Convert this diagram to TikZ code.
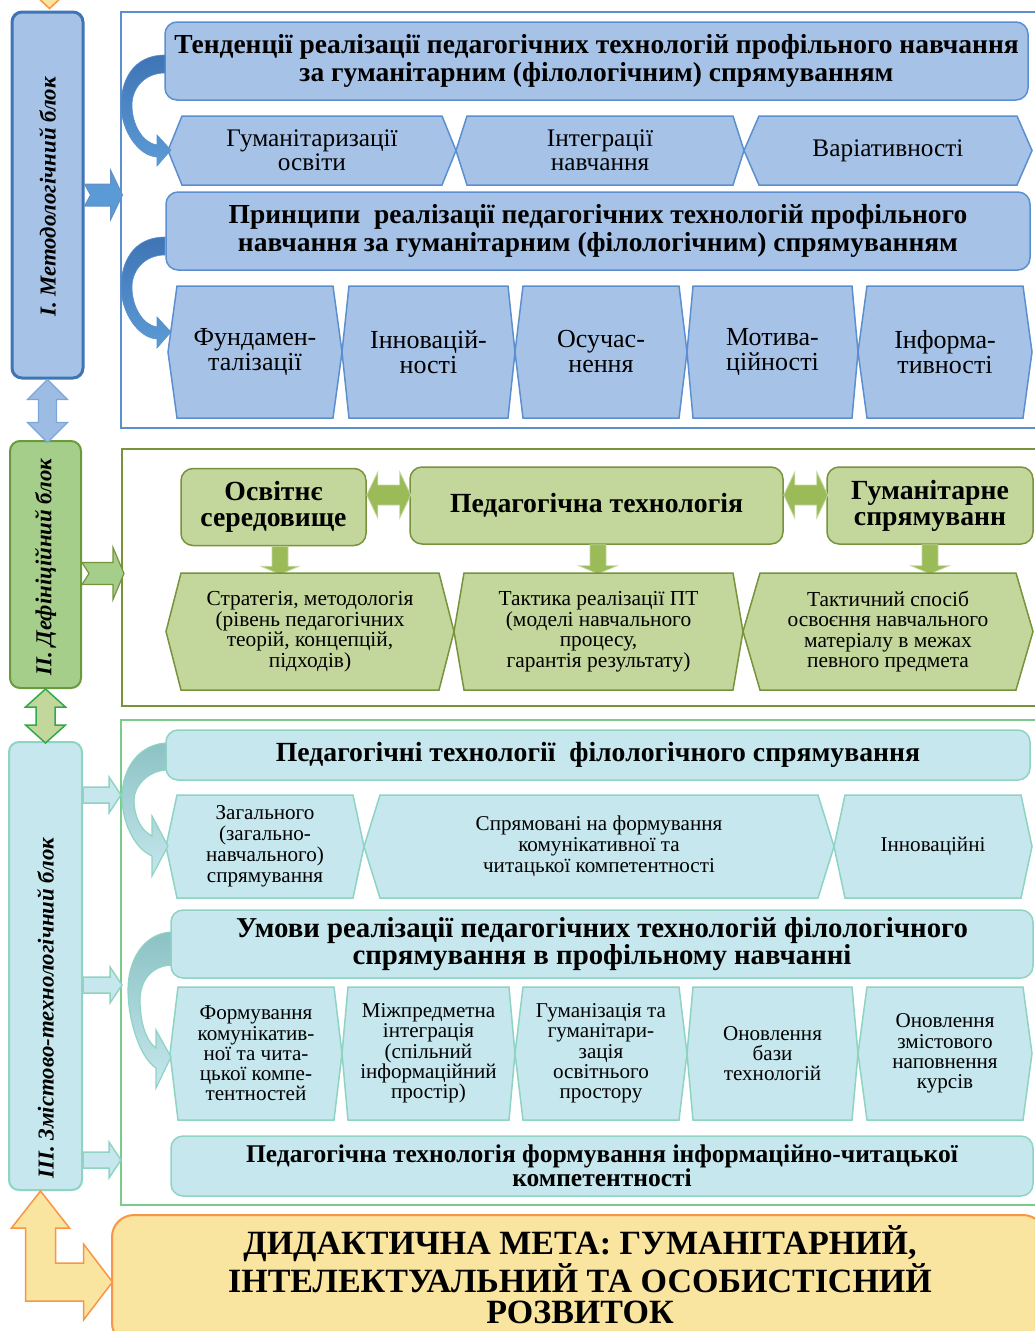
\documentclass[tikz,border=0pt]{standalone}
\usepackage{fontspec}
\setmainfont{Liberation Serif}
\usetikzlibrary{calc}

\definecolor{blfill}{HTML}{A6C3E7}
\definecolor{bldraw}{HTML}{5B8FD0}
\definecolor{bldark}{HTML}{3F74B5}
\definecolor{blarr}{HTML}{5B9BD5}
\definecolor{grfill}{HTML}{C3D69B}
\definecolor{grdraw}{HTML}{77933C}
\definecolor{grmid}{HTML}{9BBB59}
\definecolor{grblk}{HTML}{A5CE8A}
\definecolor{grline}{HTML}{6A9A3C}
\definecolor{grbright}{HTML}{2EAA4A}
\definecolor{tlfill}{HTML}{C5E7ED}
\definecolor{tldraw}{HTML}{8FD3C3}
\definecolor{tldark}{HTML}{8CC2C4}
\definecolor{frgreen}{HTML}{7ACB8C}
\definecolor{yefill}{HTML}{F9E4A0}
\definecolor{ordraw}{HTML}{F79646}

% hexagon: shape style, text style, name, left tip, right tip, top, bottom, inset, text
\newcommand{\hexa}[9]{%
  \draw[#1] (#4,{(#6+#7)/2}) -- (#4+#8,#6) -- (#5-#8,#6) -- (#5,{(#6+#7)/2})
    -- (#5-#8,#7) -- (#4+#8,#7) -- cycle;
  \node[#2] (#3) at ({(#4+#5)/2},{(#6+#7)/2}) {#9};}
% arrow to the right: style, tail, length, shaft half, head half, head length, notch
\newcommand{\rarr}[7]{%
  \draw[#1] (#2) ++(#7,0) -- ++(-#7,-#4) -- ++(#3-#6,0) -- ++(0,#4-#5) -- ++(#6,#5)
    -- ++(-#6,#5) -- ++(0,#4-#5) -- ++(#6-#3,0) -- cycle;}
% double arrow left-right: style, left tip, length, shaft half, head half, head length
\newcommand{\lrarr}[6]{%
  \draw[#1] (#2) -- ++(#6,-#5) -- ++(0,#5-#4) -- ++(#3-2*#6,0) -- ++(0,#4-#5) -- ++(#6,#5)
    -- ++(-#6,#5) -- ++(0,#4-#5) -- ++(2*#6-#3,0) -- ++(0,#5-#4) -- cycle;}
% double arrow up-down: style, top tip, length, shaft half, head half, head length
\newcommand{\udarr}[6]{%
  \draw[#1] (#2) -- ++(#5,#6) -- ++(#4-#5,0) -- ++(0,#3-2*#6) -- ++(#5-#4,0) -- ++(-#5,#6)
    -- ++(-#5,-#6) -- ++(#5-#4,0) -- ++(0,2*#6-#3) -- ++(#4-#5,0) -- cycle;}
% arrow down: style, top centre, length, shaft half, head half, head length
\newcommand{\darr}[6]{%
  \draw[#1] (#2) ++(-#4,0) -- ++(0,#3-#6) -- ++(#4-#5,0) -- ++(#5,#6) -- ++(#5,-#6)
    -- ++(#4-#5,0) -- ++(0,#6-#3) -- cycle;}

\tikzset{
  frame/.style={rectangle, line width=2pt, inner sep=0pt},
  blk/.style={rectangle, rounded corners=10pt, line width=2pt, minimum width=71, inner sep=0pt},
  blklbl/.style={rotate=90, inner sep=0pt, font=\fontsize{22.8}{24}\selectfont\bfseries\itshape},
  txt/.style={align=center, inner sep=0pt},
  bltitle/.style={rectangle, rounded corners=12pt, draw=bldraw, fill=blfill, line width=1.5pt,
    align=center, inner sep=0pt, font=\fontsize{27.5}{28}\selectfont\bfseries},
  grtitle/.style={rectangle, rounded corners=12pt, draw=grdraw, fill=grfill, line width=1.5pt,
    align=center, inner sep=0pt, minimum height=77, font=\fontsize{27.7}{26}\selectfont\bfseries},
  tltitle/.style={rectangle, rounded corners=12pt, draw=tldraw, fill=tlfill, line width=1.5pt,
    align=center, inner sep=0pt, font=\fontsize{27.7}{23}\selectfont\bfseries},
  blhex/.style={draw=bldraw, fill=blfill, line width=1.5pt},
  grhex/.style={draw=grdraw, fill=grfill, line width=1.5pt},
  tlhex/.style={draw=tldraw, fill=tlfill, line width=1.5pt},
  hexA/.style={txt, font=\fontsize{25.3}{24}\selectfont},
  hexB/.style={txt, font=\fontsize{26}{25}\selectfont},
  hexC/.style={txt, font=\fontsize{21.4}{20.5}\selectfont},
  hexD/.style={txt, font=\fontsize{21.1}{21}\selectfont},
  hexE/.style={txt, font=\fontsize{21.1}{20.3}\selectfont},
  curvbl/.style={draw=bldraw, line width=0.6pt, top color=bldark, bottom color=blarr},
  curvtl/.style={draw=tldraw, line width=1.2pt, top color=tldark, bottom color=tlfill},
  blarrow/.style={draw=bldark!80, fill=blarr, line width=1pt},
  bldouble/.style={draw=bldraw!80, fill=bldraw!60, line width=1.2pt},
  grarrow/.style={draw=grdraw, fill=grblk, line width=1.2pt},
  grdouble/.style={draw=grbright, fill=grfill, line width=1.5pt},
  grsmall/.style={draw=grfill, fill=grmid, line width=0.8pt},
  tlarrow/.style={draw=tldraw, fill=tlfill, line width=1.5pt},
  orarrow/.style={draw=ordraw, fill=yefill, line width=1.5pt},
  goal/.style={rectangle, rounded corners=22pt, draw=ordraw, fill=yefill, line width=2pt, inner sep=0pt},
  goaltxt/.style={txt, font=\fontsize{34}{31.5}\selectfont\bfseries},
}

\begin{document}
\begin{tikzpicture}[x=1pt,y=-1pt]
\useasboundingbox (0,0) rectangle (1035,1331);

\node[frame, draw=bldraw, minimum width=919, minimum height=416] (frI) at (580.5,220) {};
\node[frame, draw=grdraw, minimum width=918, minimum height=257] (frII) at (581,577.5) {};
\node[frame, draw=frgreen, minimum width=919, minimum height=485] (frIII) at (580.5,962.5) {};

\node[blk, draw=bldark, fill=blfill, line width=3pt, minimum height=366] (blkI) at (47.5,195) {};
\node[blklbl] (lblI) at (47.5,197) {I. Методологічний блок};
\node[blk, draw=grline, fill=grblk, minimum height=247] (blkII) at (45.5,564.5) {};
\node[blklbl] (lblII) at (45.5,567) {II. Дефініційний блок};
\node[blk, draw=tldraw, fill=tlfill, minimum width=73, minimum height=448] (blkIII) at (45.5,966) {};
\node[blklbl] (lblIII) at (45.5,1008) {III. Змістово-технологічний блок};

\draw[orarrow] (blkI.north) ++(2,-2) -- ++(-14,-13) -- ++(28,0) -- cycle;
\udarr{bldouble}{blkI.south}{63}{9}{20}{20}
\udarr{grdouble}{blkII.south}{54}{9.5}{20}{18}
\rarr{blarrow}{blkI.east}{38}{11}{25}{12}{6}
\rarr{grarrow}{$(blkII.east)+(0,9)$}{42}{11}{26}{11}{7}

% methodological block
\node[bltitle, minimum width=863, minimum height=78] (tend) at (596.5,61)
  {Тенденції реалізації педагогічних технологій профільного навчання\\за гуманітарним (філологічним) спрямуванням};
\hexa{blhex}{hexA}{tgum}{168}{456}{116}{185}{14}{Гуманітаризації\\освіти}
\hexa{blhex}{hexA}{tint}{456}{744}{116}{185}{11}{Інтеграції\\навчання}
\hexa{blhex}{hexA}{tvar}{744}{1032}{116}{185}{15}{Варіативності}
\node[bltitle, minimum width=864, minimum height=78] (princ) at (598,231)
  {Принципи~ реалізації педагогічних технологій профільного\\навчання за гуманітарним (філологічним) спрямуванням};
\hexa{blhex}{hexB}{pfun}{168}{342}{286}{418}{9}{Фундамен-\\талізації}
\hexa{blhex}{hexB}{pinn}{342}{515}{286}{418}{7}{Інновацій-\\ності}
\hexa{blhex}{hexB}{posu}{515}{687}{286}{418}{8}{Осучас-\\нення}
\hexa{blhex}{hexB}{pmot}{687}{858}{286}{418}{6}{Мотива-\\ційності}
\hexa{blhex}{hexB}{pinf}{858}{1032}{286}{418}{9}{Інформа-\\тивності}
\path[curvbl] (165,55) .. controls (132,55) and (121,82) .. (121,105)
  .. controls (121,130) and (138,156) .. (157,157) -- (157,166) -- (171,150)
  -- (157,135) -- (157,145) .. controls (143,143) and (132,125) .. (132,105)
  .. controls (132,88) and (145,73) .. (165,73) -- cycle;
\path[curvbl, shift={(0,182)}] (165,55) .. controls (132,55) and (121,82) .. (121,105)
  .. controls (121,130) and (138,156) .. (157,157) -- (157,166) -- (171,150)
  -- (157,135) -- (157,145) .. controls (143,143) and (132,125) .. (132,105)
  .. controls (132,88) and (145,73) .. (165,73) -- cycle;

% definition block
\node[grtitle, minimum width=185] (osv) at (273.5,507) {Освітнє\\середовище};
\node[grtitle, minimum width=373] (pedt) at (596.5,505.5) {Педагогічна технологія};
\node[grtitle, minimum width=206] (gum) at (930,505.5) {Гуманітарне\\спрямуванн};
\lrarr{grsmall}{osv.east |- 0,495}{44}{10}{23}{11}
\lrarr{grsmall}{pedt.east |- 0,495}{44}{10}{23}{11}
\darr{grsmall}{280,0 |- osv.south}{28}{8}{19}{8}
\darr{grsmall}{598,0 |- pedt.south}{29}{8}{19}{8}
\darr{grsmall}{930,0 |- gum.south}{29}{8}{19}{8}
\hexa{grhex}{hexC}{strat}{166}{454}{573}{690}{15}{Стратегія, методологія\\(рівень педагогічних\\теорій, концепцій,\\підходів)}
\hexa{grhex}{hexC}{takt}{454}{743}{573}{690}{10}{Тактика реалізації ПТ\\(моделі навчального\\процесу,\\гарантія результату)}
\hexa{grhex}{hexC}{sposib}{743}{1033}{573}{690}{17}{Тактичний спосіб\\освоєння навчального\\матеріалу в межах\\певного предмета}

% content block
\rarr{tlarrow}{blkIII.east |- 0,795}{38}{8}{18}{12}{0}
\rarr{tlarrow}{blkIII.east |- 0,985}{39}{8}{18}{12}{0}
\rarr{tlarrow}{blkIII.east |- 0,1160}{38}{8}{18}{12}{0}
\node[tltitle, minimum width=864, minimum height=50] (ptf) at (598,755)
  {Педагогічні технології~ філологічного спрямування};
\hexa{tlhex}{hexD}{zag}{166}{364}{795}{898}{11}{Загального\\(загально-\\навчального)\\спрямування}
\hexa{tlhex}{hexD}{spr}{364}{834}{795}{898}{16}{Спрямовані на формування\\комунікативної та\\читацької компетентності}
\hexa{tlhex}{hexD}{inn}{834}{1032}{795}{898}{11}{Інноваційні}
\node[tltitle, minimum width=862, minimum height=68, font=\fontsize{28.8}{21}\selectfont\bfseries] (umov) at (602,944)
  {Умови реалізації педагогічних технологій філологічного\\спрямування в профільному навчанні};
\hexa{tlhex}{hexE}{form}{170}{342}{987}{1120}{8}{Формування\\комунікатив-\\ної та чита-\\цької компе-\\тентностей}
\hexa{tlhex}{hexE}{mizh}{342}{515}{987}{1120}{6}{Міжпредметна\\інтеграція\\(спільний\\інформаційний\\простір)}
\hexa{tlhex}{hexE}{guman}{515}{687}{987}{1120}{8}{Гуманізація та\\гуманітари-\\зація\\освітнього\\простору}
\hexa{tlhex}{hexE}{onov}{687}{858}{987}{1120}{6}{Оновлення\\бази\\технологій}
\hexa{tlhex}{hexE}{zmist}{858}{1032}{987}{1120}{9}{Оновлення\\змістового\\наповнення\\курсів}
\node[tltitle, minimum width=862, minimum height=60, font=\fontsize{25.5}{23}\selectfont\bfseries] (ptinf) at (602,1166)
  {Педагогічна технологія формування інформаційно-читацької\\компетентності};
\path[curvtl] (166,743) .. controls (136,745) and (122,772) .. (122,797)
  .. controls (122,822) and (134,848) .. (152,856) -- (152,876) -- (168,846)
  -- (152,816) -- (152,836) .. controls (140,830) and (134,815) .. (134,800)
  .. controls (134,786) and (148,771) .. (166,770) -- cycle;
\path[curvtl] (171,932) .. controls (142,934) and (128,962) .. (128,990)
  .. controls (128,1020) and (140,1058) .. (156,1068) -- (156,1088) -- (171,1057)
  -- (156,1030) -- (156,1048) .. controls (145,1040) and (140,1020) .. (140,1000)
  .. controls (140,980) and (152,966) .. (171,965) -- cycle;

% didactic goal
\node[goal, minimum width=933, minimum height=130] (goal) at (578.5,1280) {};
\node[goaltxt] (goaltxt) at (580,1275)
  {ДИДАКТИЧНА МЕТА: ГУМАНІТАРНИЙ,\\ІНТЕЛЕКТУАЛЬНИЙ ТА ОСОБИСТІСНИЙ\\РОЗВИТОК};
\draw[orarrow] (blkIII.south) ++(-5,0) -- ++(29,37) -- ++(-14,0) -- ++(0,35) -- ++(28,0)
  -- ++(0,-19) -- ++(29,38) -- ++(-29,38) -- ++(0,-19) -- ++(-58,0) -- ++(0,-73)
  -- ++(-14,0) -- cycle;
\end{tikzpicture}
\end{document}
